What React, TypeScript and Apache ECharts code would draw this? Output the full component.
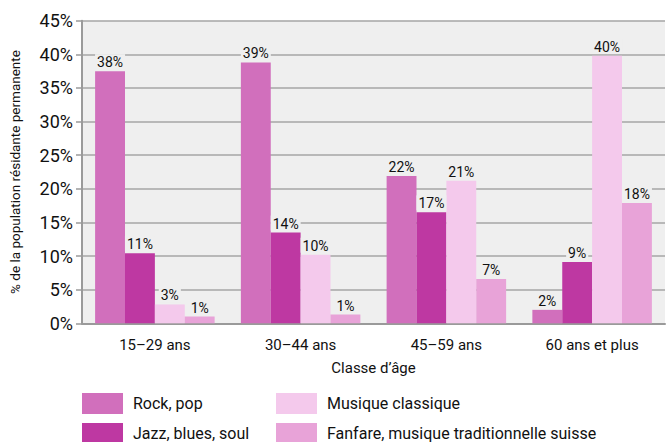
import React, { useEffect, useRef } from "react";
import * as echarts from "echarts";

const categories = ["15–29 ans", "30–44 ans", "45–59 ans", "60 ans et plus"];
const seriesNames = ["Rock, pop", "Jazz, blues, soul", "Musique classique", "Fanfare, musique traditionnelle suisse"];
const rockPop = [37.5, 38.8, 21.9, 2.0];
const jazzBluesSoul = [10.4, 13.5, 16.5, 9.1];
const musiqueClassique = [2.8, 10.2, 21.2, 39.8];
const fanfare = [1.0, 1.3, 6.6, 17.9];
const labelsText = [
  ["38%", "39%", "22%", "2%"],
  ["11%", "14%", "17%", "9%"],
  ["3%", "10%", "21%", "40%"],
  ["1%", "1%", "7%", "18%"],
];
const colors = ["#d16fbc", "#be38a2", "#f4c9ec", "#e8a3d8"];
const yTicks = [0, 5, 10, 15, 20, 25, 30, 35, 40, 45];

const FONT = "Roboto, sans-serif";

const legendPos = [
  { left: 82, top: 393 },
  { left: 82, top: 423 },
  { left: 276, top: 393 },
  { left: 276, top: 423 },
];

export default function App() {
  const ref = useRef<HTMLDivElement>(null);
  useEffect(() => {
    if (!ref.current) return;
    const chart = echarts.init(ref.current, null, { renderer: "svg" });
    const values = [rockPop, jazzBluesSoul, musiqueClassique, fanfare];
    chart.setOption({
      animation: false,
      textStyle: { fontFamily: FONT },
      grid: {
        left: 82,
        right: 6,
        top: 20.7,
        bottom: 118.7,
        show: true,
        backgroundColor: "#efefef",
        borderWidth: 0,
      },
      legend: seriesNames.map((n, i) => ({
        data: [n],
        left: legendPos[i].left,
        top: legendPos[i].top,
        padding: 0,
        itemWidth: 41,
        itemHeight: 21,
        icon: "rect",
        textStyle: { fontFamily: FONT, fontSize: 16, color: "#111", padding: [0, 0, 0, 5] },
      })),
      xAxis: {
        type: "category",
        data: categories,
        name: "Classe d’âge",
        nameLocation: "middle",
        nameGap: 37,
        nameTextStyle: { fontFamily: FONT, fontSize: 15, color: "#111" },
        axisLine: { lineStyle: { color: "#9a9a9a", width: 2 } },
        axisTick: { show: false },
        axisLabel: { fontFamily: FONT, fontSize: 15, color: "#111", margin: 14 },
      },
      yAxis: {
        type: "value",
        min: yTicks[0],
        max: yTicks[yTicks.length - 1],
        interval: 5,
        name: "% de la population résidante permanente",
        nameLocation: "middle",
        nameGap: 60,
        nameTextStyle: { fontFamily: FONT, fontSize: 13.5, color: "#111" },
        axisLine: { show: true, lineStyle: { color: "#9a9a9a", width: 2 } },
        axisTick: { show: true, length: 6, lineStyle: { color: "#9a9a9a", width: 1.5 } },
        splitLine: { lineStyle: { color: "#a6a6a6", width: 1.5 } },
        axisLabel: { fontFamily: FONT, fontSize: 18, color: "#111", margin: 9, formatter: "{value}%" },
      },
      series: seriesNames.map((name, si) => ({
        name,
        type: "bar",
        data: values[si],
        barGap: "0%",
        barCategoryGap: "18%",
        itemStyle: { color: colors[si] },
        label: {
          show: true,
          position: "top",
          distance: 2,
          fontFamily: FONT,
          fontSize: 14,
          color: "#111",
          backgroundColor: "#efefef",
          padding: [1, 2, 0, 2],
          formatter: (p: any) => labelsText[si][p.dataIndex],
        },
      })),
    });
    return () => chart.dispose();
  }, []);
  return (
    <div
      ref={ref}
      style={{ position: "absolute", left: 0, top: 0, width: 671, height: 442 }}
    />
  );
}
